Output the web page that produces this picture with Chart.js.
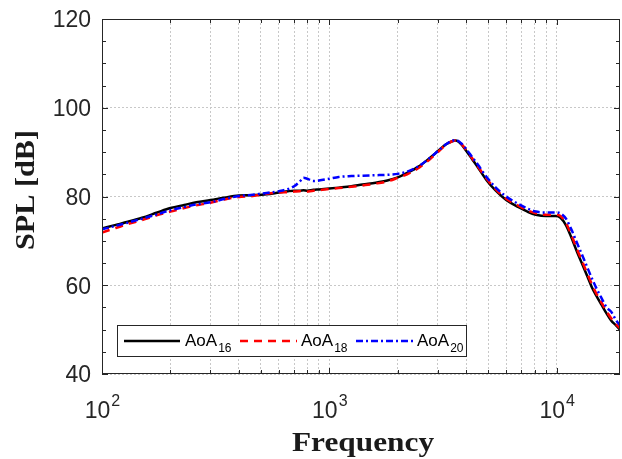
<!DOCTYPE html>
<html>
<head>
<meta charset="utf-8">
<script src="https://cdn.jsdelivr.net/npm/chart.js@4/dist/chart.umd.min.js"></script>
<style>
  html, body { margin: 0; padding: 0; background: #ffffff; }
  #c { display: block; }
</style>
</head>
<body>
<canvas id="c" width="622" height="459"></canvas>
<script>
// Frequency axis samples (Hz)
const freq = [100, 115, 130, 150, 175, 200, 230, 260, 300, 350, 400, 460, 530, 600, 660, 700, 740, 770, 800, 850, 900,
  1000, 1100, 1250, 1400, 1600, 1800, 2000, 2200, 2500, 2800, 3000, 3250, 3450, 3600, 3800, 4000, 4250, 4500, 4900,
  5400, 6000, 6800, 7500, 8100, 9000, 9900, 10400, 11000, 11600, 12300, 12900, 13600, 14300, 15000, 15800, 16600,
  17400, 18200, 19000];

// SPL spectra [dB], one per angle of attack
const aoa16 = [72.8, 73.6, 74.3, 75.2, 76.4, 77.4, 78.1, 78.7, 79.2, 79.8, 80.2, 80.3, 80.5, 80.9, 81.2, 81.3, 81.3, 81.4, 81.3, 81.5, 81.6,
  81.8, 82.0, 82.3, 82.7, 83.1, 83.6, 84.3, 85.3, 86.9, 88.9, 90.2, 91.7, 92.4, 92.6, 91.8, 90.3, 88.4, 86.6, 83.8,
  81.3, 79.2, 77.6, 76.5, 75.9, 75.6, 75.6, 75.2, 73.5, 70.8, 67.5, 65.0, 62.2, 59.5, 57.5, 55.5, 53.6,
  52.0, 51.0, 50.0];
const aoa18 = [71.9, 72.9, 73.8, 74.7, 75.8, 76.6, 77.4, 78.0, 78.6, 79.4, 79.9, 80.1, 80.6, 80.9, 81.0, 81.1, 81.2, 81.0, 81.1, 81.3, 81.4,
  81.7, 81.9, 82.2, 82.5, 82.9, 83.4, 84.2, 85.0, 86.6, 88.6, 90.0, 91.6, 92.4, 92.6, 91.9, 90.5, 88.6, 86.8, 84.1,
  81.6, 79.5, 77.9, 76.8, 76.2, 75.9, 75.9, 75.6, 74.0, 71.4, 68.1, 65.6, 62.8, 60.2, 58.0, 56.0, 54.1,
  52.5, 51.3, 50.3];
const aoa20 = [72.6, 73.4, 74.1, 75.0, 76.0, 76.9, 77.6, 78.2, 78.7, 79.5, 80.1, 80.4, 80.8, 81.2, 81.7, 82.3, 83.3, 84.2, 84.0, 83.5, 83.6,
  84.0, 84.4, 84.6, 84.7, 84.8, 84.9, 85.1, 85.6, 87.0, 88.9, 90.2, 91.7, 92.5, 92.7, 92.0, 90.7, 88.9, 87.2, 84.5,
  82.0, 80.0, 78.3, 77.2, 76.6, 76.4, 76.4, 76.2, 75.0, 72.6, 69.5, 67.0, 64.2, 61.5, 59.2, 57.0, 55.0,
  54.0, 52.2, 51.0];

// Axis ticks
const yTicks = [40, 60, 80, 100, 120];
const xDecadeExponents = [2, 3, 4];
const xGridTicks = [100, 200, 300, 400, 500, 600, 700, 800, 900,
  1000, 2000, 3000, 4000, 5000, 6000, 7000, 8000, 9000, 10000];
const seriesNames = ['16', '18', '20'];

const toXY = ys => freq.map((f, i) => ({ x: f, y: ys[i] }));

const AXIS_COLOR = '#262626';
const TICK_FONT = '"Liberation Sans", Arial, sans-serif';
const TITLE_FONT = '"Liberation Serif", "Times New Roman", serif';

// Draws the framed box, inward ticks, tick labels, axis titles and legend
const decorations = {
  id: 'decorations',
  afterDraw(chart) {
    const { ctx, chartArea: a, scales } = chart;
    const x = scales.x, y = scales.y;
    ctx.save();
    ctx.strokeStyle = AXIS_COLOR;
    ctx.lineWidth = 1;
    ctx.setLineDash([]);

    // frame
    ctx.strokeRect(a.left + 0.5, a.top + 0.5, a.right - a.left - 1, a.bottom - a.top - 1);

    // x ticks (top and bottom, pointing inward)
    ctx.beginPath();
    xGridTicks.forEach(v => {
      const px = Math.round(x.getPixelForValue(v)) + 0.5;
      const isMajor = Math.abs(Math.log10(v) - Math.round(Math.log10(v))) < 1e-9;
      const len = isMajor ? 6 : 4;
      ctx.moveTo(px, a.bottom); ctx.lineTo(px, a.bottom - len);
      ctx.moveTo(px, a.top); ctx.lineTo(px, a.top + len);
    });
    // y ticks: major every 20, minor every 5
    for (let v = yTicks[0]; v <= yTicks[yTicks.length - 1]; v += 5) {
      const py = Math.round(y.getPixelForValue(v)) + 0.5;
      const len = yTicks.includes(v) ? 6 : 4;
      ctx.moveTo(a.left, py); ctx.lineTo(a.left + len, py);
      ctx.moveTo(a.right, py); ctx.lineTo(a.right - len, py);
    }
    ctx.stroke();

    // y tick labels
    ctx.fillStyle = AXIS_COLOR;
    ctx.font = '23px ' + TICK_FONT;
    ctx.textAlign = 'right';
    ctx.textBaseline = 'middle';
    yTicks.forEach(v => {
      ctx.fillText(String(v), a.left - 11, y.getPixelForValue(v) + 2);
    });

    // x tick labels as 10^n
    ctx.textBaseline = 'alphabetic';
    ctx.textAlign = 'left';
    xDecadeExponents.forEach(e => {
      const px = x.getPixelForValue(Math.pow(10, e));
      ctx.font = '23px ' + TICK_FONT;
      const wBase = ctx.measureText('10').width;
      ctx.font = '16px ' + TICK_FONT;
      const wExp = ctx.measureText(String(e)).width;
      const left = px - (wBase + wExp) / 2;
      ctx.font = '23px ' + TICK_FONT;
      ctx.fillText('10', left, 418);
      ctx.font = '16px ' + TICK_FONT;
      ctx.fillText(String(e), left + wBase + 1, 406);
    });

    // axis titles (bold serif, slightly extended)
    ctx.fillStyle = '#1a1a1a';
    ctx.font = 'bold 27px ' + TITLE_FONT;
    ctx.textAlign = 'center';
    ctx.textBaseline = 'alphabetic';
    ctx.save();
    ctx.translate((a.left + a.right) / 2 + 2, 451);
    ctx.scale(1.16, 1);
    ctx.fillText('Frequency', 0, 0);
    ctx.restore();

    ctx.save();
    ctx.translate(34, 190);
    ctx.rotate(-Math.PI / 2);
    ctx.scale(1.12, 1);
    ctx.fillText('SPL [dB]', 0, 0);
    ctx.restore();

    // legend
    const box = { l: 117, t: 325, r: 467, b: 357 };
    ctx.fillStyle = '#ffffff';
    ctx.fillRect(box.l, box.t, box.r - box.l, box.b - box.t);
    ctx.strokeStyle = AXIS_COLOR;
    ctx.lineWidth = 1;
    ctx.strokeRect(box.l + 0.5, box.t + 0.5, box.r - box.l - 1, box.b - box.t - 1);
    const entries = [
      { x0: 124, x1: 180, tx: 185 },
      { x0: 240, x1: 297, tx: 301 },
      { x0: 356, x1: 413, tx: 417 }
    ];
    const ly = (box.t + box.b) / 2;
    chart.data.datasets.forEach((ds, i) => {
      const en = entries[i];
      ctx.save();
      ctx.strokeStyle = ds.borderColor;
      ctx.lineWidth = ds.borderWidth;
      ctx.setLineDash(ds.borderDash || []);
      ctx.beginPath();
      ctx.moveTo(en.x0, ly);
      ctx.lineTo(en.x1, ly);
      ctx.stroke();
      ctx.restore();
      ctx.fillStyle = '#000000';
      ctx.textAlign = 'left';
      ctx.font = '17px ' + TICK_FONT;
      ctx.fillText('AoA', en.tx, ly + 5);
      const w = ctx.measureText('AoA').width;
      ctx.font = '12px ' + TICK_FONT;
      ctx.fillText(seriesNames[i], en.tx + w + 1, ly + 11);
    });

    ctx.restore();
  }
};

const gridStyle = { color: '#c8c8c8', lineWidth: 1, drawTicks: false };
const gridBorder = { display: false, dash: [2, 2] };

new Chart(document.getElementById('c'), {
  type: 'line',
  data: {
    datasets: [
      { label: 'AoA16', data: toXY(aoa16), borderColor: '#000000', borderWidth: 2.5, borderDash: [], order: 3 },
      { label: 'AoA18', data: toXY(aoa18), borderColor: '#ff0000', borderWidth: 2.5, borderDash: [8, 6], order: 2 },
      { label: 'AoA20', data: toXY(aoa20), borderColor: '#0000ff', borderWidth: 2.5, borderDash: [7, 3, 2, 3], order: 1 }
    ]
  },
  options: {
    responsive: false,
    animation: false,
    devicePixelRatio: 1,
    layout: { padding: { top: 19, right: 2, left: 0, bottom: 0 } },
    elements: {
      point: { radius: 0 },
      line: { cubicInterpolationMode: 'monotone', fill: false }
    },
    plugins: { legend: { display: false }, tooltip: { enabled: false } },
    scales: {
      x: {
        type: 'logarithmic',
        min: 100,
        max: 19000,
        afterBuildTicks: s => { s.ticks = xGridTicks.map(v => ({ value: v })); },
        afterFit: s => { s.height = 85; },
        ticks: { display: false },
        grid: gridStyle,
        border: gridBorder
      },
      y: {
        type: 'linear',
        min: 40,
        max: 120,
        afterBuildTicks: s => { s.ticks = yTicks.map(v => ({ value: v })); },
        afterFit: s => { s.width = 102; },
        ticks: { display: false },
        grid: gridStyle,
        border: gridBorder
      }
    }
  },
  plugins: [decorations]
});
</script>
</body>
</html>
